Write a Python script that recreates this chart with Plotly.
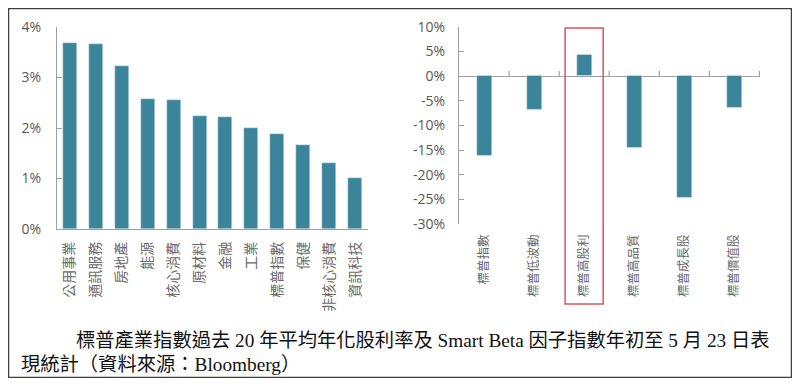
import plotly.graph_objects as go

# ---- data ----
sector_names = ["公用事業", "通訊服務", "房地產", "能源", "核心消費", "原材料",
                "金融", "工業", "標普指數", "保健", "非核心消費", "資訊科技"]
sector_yield = [3.68, 3.67, 3.23, 2.58, 2.55, 2.24, 2.21, 2.01, 1.89, 1.66, 1.31, 1.01]

factor_names = ["標普指數", "標普低波動", "標普高股利", "標普高品質", "標普成長股", "標普價值股"]
factor_ytd = [-16.1, -6.9, 4.3, -14.5, -24.6, -6.4]

left_ticks = [0, 1, 2, 3, 4]
right_ticks = [10, 5, 0, -5, -10, -15, -20, -25, -30]

caption1 = "標普產業指數過去 20 年平均年化股利率及 Smart Beta 因子指數年初至 5 月 23 日表"
caption2 = "現統計（資料來源：Bloomberg）"

BAR = "#3b8499"
AX = "#a0a0a0"
TXT = "#595959"
# page has an 8px body margin; figure sized to fit inside the 800x388 window
W, H = 784, 370
OX, OY = 8, 8


def px(rx):
    return (rx - OX) / W


def py(ry):
    return 1 - (ry - OY) / H


fig = go.Figure()
fig.add_trace(go.Bar(x=sector_names, y=sector_yield,
                     marker_color=BAR, width=0.54, xaxis="x", yaxis="y"))
fig.add_trace(go.Bar(x=factor_names, y=factor_ytd,
                     marker_color=BAR, width=0.3, xaxis="x2", yaxis="y2"))

tickfont = dict(family="Open Sans, DejaVu Sans, sans-serif", size=14, color=TXT)
catfont_l = dict(family="Noto Sans CJK TC, sans-serif", size=14, color="#6a6a6a")
catfont_r = dict(family="Noto Sans CJK TC, sans-serif", size=12.5, color="#6a6a6a")

fig.update_layout(
    width=W, height=H,
    margin=dict(l=0, r=0, t=0, b=0, pad=0, autoexpand=False),
    paper_bgcolor="white", plot_bgcolor="white", showlegend=False, bargap=0,
    xaxis=dict(domain=[px(57), px(368)], anchor="y", type="category",
               automargin=False,
               showline=True, linecolor=AX, linewidth=1.2, ticks="",
               tickfont=catfont_l, tickangle=-90, showgrid=False,
               ticklabelstandoff=6),
    yaxis=dict(domain=[py(229), py(27)], anchor="x", range=[0, 4],
               automargin=False,
               tickvals=left_ticks, ticktext=[f"{v}%" for v in left_ticks],
               showline=True, linecolor=AX, linewidth=1.2, ticks="inside",
               ticklen=5, tickcolor=AX, showgrid=False, zeroline=False,
               tickfont=tickfont, ticklabelstandoff=12),
    xaxis2=dict(domain=[px(459), px(760)], anchor="y2", type="category",
                automargin=False,
                showline=False, ticks="", tickfont=catfont_r, tickangle=-90,
                showgrid=False, ticklabelstandoff=7),
    yaxis2=dict(domain=[py(224), py(26.7)], anchor="x2", range=[-30, 10],
                automargin=False,
                tickvals=right_ticks, ticktext=[f"{v}%" for v in right_ticks],
                showline=True, linecolor=AX, linewidth=1.2, ticks="inside",
                ticklen=5, tickcolor=AX, showgrid=False,
                zeroline=True, zerolinecolor=AX, zerolinewidth=1.2,
                tickfont=tickfont, ticklabelstandoff=10),
)

shapes = []
# category boundary ticks on the zero line of the right chart
for i in range(1, len(factor_names) + 1):
    shapes.append(dict(type="line", xref="x2", yref="y2", x0=i - 0.5, x1=i - 0.5,
                       y0=0, y1=1.0, line=dict(color=AX, width=1.2)))
# highlight box around 標普高股利
hi = factor_names.index("標普高股利")
shapes.append(dict(type="rect", xref="x2", yref="paper", x0=hi - 0.38, x1=hi + 0.38,
                   y0=py(304), y1=py(28),
                   line=dict(color="#d9565a", width=1.5)))
# outer frame
shapes.append(dict(type="rect", xref="paper", yref="paper", x0=0, x1=1, y0=0, y1=1,
                   line=dict(color="#404040", width=2.5)))
fig.update_layout(shapes=shapes)

capfont = dict(family="Liberation Serif, Noto Sans CJK TC, serif", size=19.3, color="#111111")
fig.add_annotation(x=px(74), y=py(340), xref="paper", yref="paper", text=caption1,
                   showarrow=False, xanchor="left", yanchor="middle", font=capfont)
fig.add_annotation(x=px(19), y=0.002, xref="paper", yref="paper", text=caption2,
                   showarrow=False, xanchor="left", yanchor="bottom", font=capfont)

fig.write_html("out.html")
